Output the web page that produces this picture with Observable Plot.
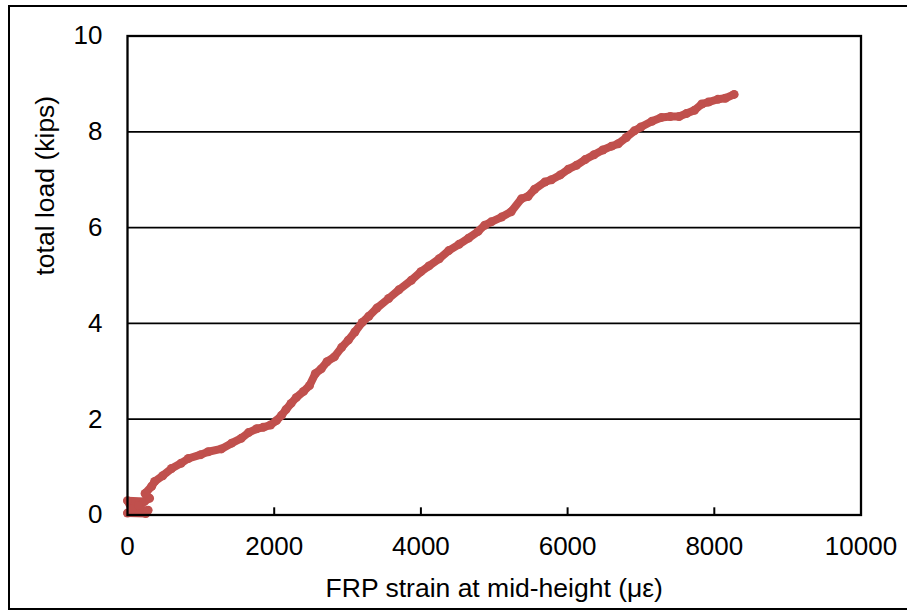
<!DOCTYPE html>
<html>
<head>
<meta charset="utf-8">
<script src="https://cdn.jsdelivr.net/npm/d3@7"></script>
<script src="https://cdn.jsdelivr.net/npm/@observablehq/plot@0.6"></script>
<style>
  html, body { margin: 0; padding: 0; background: #fff; overflow: hidden; }
  #wrap { position: relative; width: 907px; height: 610px; overflow: hidden; }
  #border { position: absolute; left: 8px; top: 5px; width: 1000px; height: 605px; border: 2px solid #000; box-sizing: border-box; pointer-events: none; }
  #chart { position: absolute; left: 0; top: 0; }
</style>
</head>
<body>
<div id="wrap"><div id="chart"></div><div id="border"></div></div>
<script>
// FRP strain at mid-height (microstrain)
const strain = [0, 250, 280, 60, 0, 230, 150, 300, 240, 330, 370, 480, 600, 730, 830, 1000, 1100, 1280, 1420, 1550, 1650, 1760, 1850, 1950, 2030, 2100, 2160, 2230, 2300, 2400, 2480, 2560, 2640, 2720, 2820, 2920, 3010, 3100, 3200, 3290, 3400, 3560, 3700, 3870, 4000, 4110, 4250, 4380, 4520, 4650, 4780, 4870, 4960, 5100, 5230, 5370, 5460, 5550, 5690, 5780, 5900, 6010, 6120, 6240, 6360, 6480, 6600, 6690, 6800, 6910, 7000, 7150, 7280, 7400, 7520, 7620, 7730, 7830, 7920, 8050, 8150, 8270];
// total load (kips)
const load = [0.04, 0.03, 0.1, 0.12, 0.3, 0.28, 0.2, 0.35, 0.45, 0.6, 0.7, 0.82, 0.97, 1.08, 1.18, 1.26, 1.32, 1.38, 1.5, 1.6, 1.72, 1.8, 1.83, 1.88, 1.97, 2.08, 2.2, 2.33, 2.45, 2.58, 2.7, 2.95, 3.05, 3.2, 3.3, 3.5, 3.65, 3.82, 4.02, 4.15, 4.32, 4.52, 4.7, 4.9, 5.08, 5.2, 5.35, 5.52, 5.65, 5.78, 5.92, 6.05, 6.12, 6.22, 6.33, 6.6, 6.65, 6.8, 6.95, 7.0, 7.1, 7.22, 7.3, 7.42, 7.52, 7.62, 7.7, 7.75, 7.88, 8.02, 8.1, 8.22, 8.3, 8.32, 8.32, 8.38, 8.45, 8.58, 8.62, 8.68, 8.7, 8.78];
const xTicks = [0, 2000, 4000, 6000, 8000, 10000];
const yTicks = [0, 2, 4, 6, 8, 10];
const gridY = [2, 4, 6, 8];
const innerXTicks = [2000, 4000, 6000, 8000];
const xLabel = "FRP strain at mid-height (\u03BC\u03B5)";
const yLabel = "total load (kips)";

const data = strain.map((s, i) => ({strain: s, load: load[i]}));
const font = "'Liberation Sans', Arial, sans-serif";

const chart = Plot.plot({
  width: 907,
  height: 610,
  marginLeft: 127,
  marginRight: 46.5,
  marginTop: 35.5,
  marginBottom: 95.5,
  style: {fontFamily: font, fontSize: "26px", color: "#000", background: "transparent", overflow: "visible"},
  x: {domain: [0, 10000]},
  y: {domain: [0, 10]},
  marks: [
    Plot.ruleY(gridY, {stroke: "#000", strokeWidth: 1.7}),
    Plot.ruleX(innerXTicks, {y1: 0, y2: 0.15, stroke: "#000", strokeWidth: 2}),
    Plot.line(data, {x: "strain", y: "load", stroke: "#C0504D", strokeWidth: 8, strokeLinejoin: "round", strokeLinecap: "round"}),
    Plot.dot(data, {x: "strain", y: "load", r: 4.5, fill: "#C0504D", stroke: "none"}),
    Plot.frame({stroke: "#000", strokeWidth: 2.3}),
    Plot.axisX({ticks: xTicks, tickSize: 0, tickPadding: 22, tickFormat: d => String(d), label: null, fontSize: 26}),
    Plot.axisY({ticks: yTicks, tickSize: 0, tickPadding: 25, tickFormat: d => String(d), label: null, fontSize: 26}),
    Plot.text([xLabel], {text: d => d, frameAnchor: "bottom", dy: 82, lineAnchor: "bottom", fontSize: 26.5, fill: "#000"}),
    Plot.text([yLabel], {text: d => d, frameAnchor: "left", dx: -74, rotate: -90, lineAnchor: "bottom", fontSize: 26.5, fill: "#000"})
  ]
});
document.getElementById("chart").appendChild(chart);
</script>
</body>
</html>
